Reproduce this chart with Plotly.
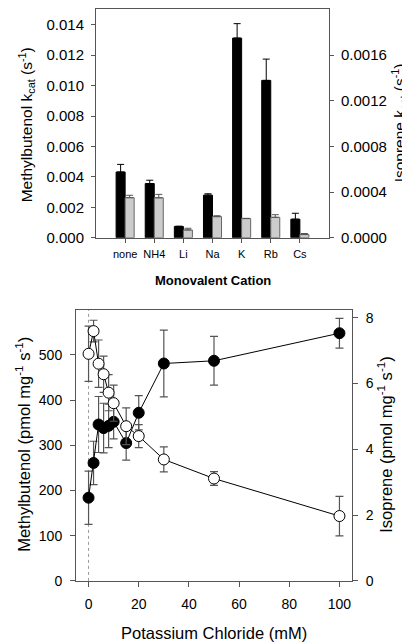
import plotly.graph_objects as go

# ---- Top chart data ----
cations = ["none", "NH4", "Li", "Na", "K", "Rb", "Cs"]
mbo_kcat = [0.00432, 0.00356, 0.00074, 0.00280, 0.01312, 0.01034, 0.00122]
mbo_kcat_err = [0.00050, 0.00022, 0.00002, 0.00009, 0.00095, 0.00140, 0.00039]
iso_kcat = [0.000351, 0.000350, 0.000068, 0.000185, 0.000168, 0.000179, 0.000028]
iso_kcat_err = [0.000021, 0.000030, 0.000015, 0.000008, 0.000002, 0.000023, 0.000009]

# ---- Bottom chart data ----
kcl_mM = [0, 2, 4, 6, 8, 10, 15, 20, 30, 50, 100]
mbo_rate = [184, 261, 346, 338, 343, 352, 305, 372, 481, 487, 548]
mbo_rate_err = [59, 48, 62, 55, 48, 38, 38, 38, 74, 54, 33]
iso_rate = [6.90, 7.59, 6.60, 6.28, 5.72, 5.40, 4.70, 4.40, 3.69, 3.11, 1.97]
iso_rate_err = [0.84, 0.33, 0.72, 0.55, 0.55, 0.55, 0.56, 0.35, 0.38, 0.21, 0.60]

W, H = 410, 642
FONT = "Liberation Sans, Arial, sans-serif"
AX = "#555555"

def px_x(p):
    return p / W

def px_y(p):
    return 1 - p / H

fig = go.Figure()

# top bars
fig.add_trace(go.Bar(
    x=cations, y=mbo_kcat, xaxis="x", yaxis="y",
    marker=dict(color="black", line=dict(color="black", width=1)),
    width=0.31, offset=-0.31,
    error_y=dict(type="data", array=mbo_kcat_err, arrayminus=[0] * len(cations),
                 symmetric=False, color="black", thickness=1, width=3.5),
    showlegend=False,
))
fig.add_trace(go.Bar(
    x=cations, y=iso_kcat, xaxis="x", yaxis="y2",
    marker=dict(color="#cccccc", line=dict(color="#666666", width=1)),
    width=0.31, offset=0,
    error_y=dict(type="data", array=iso_kcat_err, arrayminus=[0] * len(cations),
                 symmetric=False, color="#555555", thickness=1, width=3.5),
    showlegend=False,
))

# bottom lines
fig.add_trace(go.Scatter(
    x=kcl_mM, y=iso_rate, xaxis="x2", yaxis="y4", mode="lines+markers",
    line=dict(color="black", width=1),
    marker=dict(size=11, color="white", line=dict(color="black", width=1)),
    error_y=dict(type="data", array=iso_rate_err, color="#555555", thickness=1.2, width=4),
    showlegend=False,
))
fig.add_trace(go.Scatter(
    x=kcl_mM, y=mbo_rate, xaxis="x2", yaxis="y3", mode="lines+markers",
    line=dict(color="black", width=1),
    marker=dict(size=11, color="black", line=dict(color="black", width=1)),
    error_y=dict(type="data", array=mbo_rate_err, color="#555555", thickness=1.2, width=4),
    showlegend=False,
))

top_dom_x = [px_x(88), px_x(321)]
top_dom_y = [px_y(232), px_y(0.5)]
bot_dom_x = [px_x(68), px_x(344)]
bot_dom_y = [px_y(580), px_y(305)]

tick_font_top = dict(family=FONT, size=15, color="black")
tick_font_bot = dict(family=FONT, size=14, color="black")

fig.update_layout(
    width=W, height=H,
    margin=dict(l=0, r=0, t=0, b=0),
    paper_bgcolor="white", plot_bgcolor="white",
    font=dict(family=FONT, color="black"),
    xaxis=dict(domain=top_dom_x, anchor="y", type="category", range=[-1, 7],
               showline=True, linecolor=AX, linewidth=1, mirror=True,
               ticks="outside", ticklen=4, tickcolor=AX,
               tickfont=dict(family=FONT, size=11, color="black"),
               showgrid=False, zeroline=False, ticklabelstandoff=2),
    yaxis=dict(domain=top_dom_y, anchor="x", range=[0, 0.015],
               tickvals=[0, 0.002, 0.004, 0.006, 0.008, 0.010, 0.012, 0.014],
               tickformat=".3f",
               showline=True, linecolor=AX, linewidth=1, mirror=True,
               ticks="outside", ticklen=4, tickcolor=AX, tickfont=tick_font_top,
               showgrid=False, zeroline=False, ticklabelstandoff=4),
    yaxis2=dict(domain=top_dom_y, anchor="x", overlaying="y", side="right",
                range=[0, 0.002],
                tickvals=[0, 0.0004, 0.0008, 0.0012, 0.0016], tickformat=".4f",
                showline=True, linecolor=AX, linewidth=1,
                ticks="outside", ticklen=4, tickcolor=AX, tickfont=tick_font_top,
                showgrid=False, zeroline=False, ticklabelstandoff=4),
    xaxis2=dict(domain=bot_dom_x, anchor="y3", range=[-5, 105],
                tickvals=[0, 20, 40, 60, 80, 100],
                showline=True, linecolor=AX, linewidth=1, mirror=True,
                ticks="outside", ticklen=5, tickcolor=AX, tickfont=tick_font_bot,
                showgrid=False, zeroline=False, ticklabelstandoff=5),
    yaxis3=dict(domain=bot_dom_y, anchor="x2", range=[0, 600],
                tickvals=[0, 100, 200, 300, 400, 500],
                showline=True, linecolor=AX, linewidth=1, mirror=True,
                ticks="outside", ticklen=5, tickcolor=AX, tickfont=tick_font_bot,
                showgrid=False, zeroline=False, ticklabelstandoff=5),
    yaxis4=dict(domain=bot_dom_y, anchor="x2", overlaying="y3", side="right",
                range=[0, 8.24], tickvals=[0, 2, 4, 6, 8],
                showline=True, linecolor=AX, linewidth=1,
                ticks="outside", ticklen=5, tickcolor=AX, tickfont=tick_font_bot,
                showgrid=False, zeroline=False, ticklabelstandoff=5),
)

# dotted line at x = 0
fig.add_shape(type="line", xref="x2", yref="paper", x0=0, x1=0,
              y0=bot_dom_y[0], y1=bot_dom_y[1],
              line=dict(color="#999999", width=1, dash="dot"), layer="below")

ann = []
ann.append(dict(text="Methylbutenol k<sub>cat</sub> (s<sup>-1</sup>)", x=px_x(19), y=px_y(118),
                textangle=-90, font=dict(family=FONT, size=15.5)))
ann.append(dict(text="Isoprene k<sub>cat</sub> (s<sup>-1</sup>)", x=px_x(392), y=px_y(116),
                textangle=-90, font=dict(family=FONT, size=15.5)))
ann.append(dict(text="<b>Monovalent Cation</b>", x=px_x(204.5), y=px_y(275),
                font=dict(family=FONT, size=13)))
ann.append(dict(text="Methylbutenol (pmol mg<sup>-1</sup> s<sup>-1</sup>)", x=px_x(15), y=px_y(442),
                textangle=-90, font=dict(family=FONT, size=16.5)))
ann.append(dict(text="Isoprene (pmol mg<sup>-1</sup> s<sup>-1</sup>)", x=px_x(377), y=px_y(442),
                textangle=-90, font=dict(family=FONT, size=16.5)))
ann.append(dict(text="Potassium Chloride (mM)", x=px_x(206), y=px_y(633),
                font=dict(family=FONT, size=16.5)))
for a in ann:
    a.update(xref="paper", yref="paper", showarrow=False, xanchor="center", yanchor="middle")
fig.update_layout(annotations=ann)

fig.write_html("out.html")
